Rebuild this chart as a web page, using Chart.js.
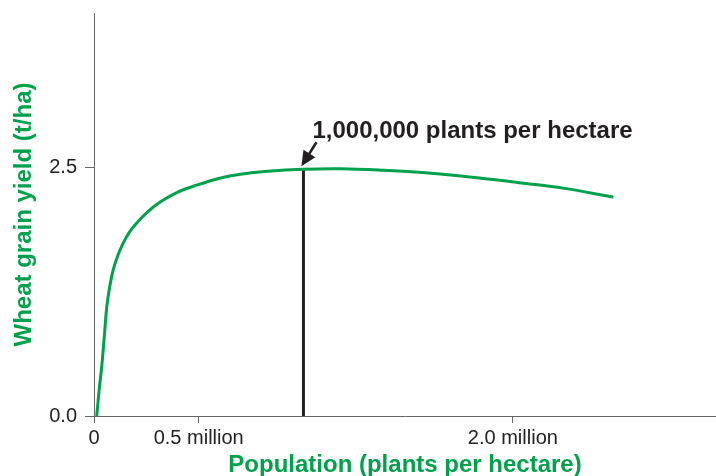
<!DOCTYPE html>
<html>
<head>
<meta charset="utf-8">
<script src="https://cdn.jsdelivr.net/npm/chart.js@4/dist/chart.umd.min.js"></script>
<style>
  html, body { margin: 0; padding: 0; background: #fff; }
  #wrap { width: 716px; height: 476px; }
</style>
</head>
<body>
<div id="wrap"><canvas id="chart"></canvas></div>
<script>
// population in millions of plants per hectare, yield in t/ha
const population = [0.013, 0.025, 0.037, 0.05, 0.061, 0.075, 0.092, 0.115, 0.14, 0.17, 0.204, 0.25, 0.316, 0.4, 0.49, 0.6, 0.7, 0.83, 1.0, 1.18, 1.37, 1.61, 1.85, 2.05, 2.24, 2.48];
const grainYield = [0, 0.27, 0.50, 0.82, 1.10, 1.30, 1.47, 1.62, 1.74, 1.85, 1.94, 2.04, 2.15, 2.25, 2.32, 2.39, 2.43, 2.46, 2.48, 2.485, 2.47, 2.44, 2.39, 2.34, 2.29, 2.20];

const markerX = 1.0;
const markerY = 2.48;
const markerLabel = '1,000,000 plants per hectare';

const xTickValues = [0, 0.5, 2.0];
const xTickLabels = ['0', '0.5 million', '2.0 million'];
const yTickValues = [0, 2.5];
const yTickLabels = ['0.0', '2.5'];

const GREEN = '#00a14b';
const INK = '#231f20';
const AXIS = '#666';

const annotate = {
  id: 'annotate',
  afterDatasetsDraw(chart) {
    const { ctx, scales: { x, y } } = chart;
    const px = x.getPixelForValue(markerX);
    const py = y.getPixelForValue(markerY);
    ctx.save();
    // arrow
    const tipX = px - 2, tipY = py - 3;
    const tailX = px + 13, tailY = py - 27;
    const ang = Math.atan2(tipY - tailY, tipX - tailX);
    const c = Math.cos(ang), s = Math.sin(ang);
    ctx.strokeStyle = INK;
    ctx.fillStyle = INK;
    ctx.lineWidth = 2.5;
    ctx.beginPath();
    ctx.moveTo(tailX, tailY);
    ctx.lineTo(tipX - 10 * c, tipY - 10 * s);
    ctx.stroke();
    ctx.beginPath();
    ctx.moveTo(tipX, tipY);
    ctx.lineTo(tipX - 15 * c + 7 * s, tipY - 15 * s - 7 * c);
    ctx.lineTo(tipX - 15 * c - 7 * s, tipY - 15 * s + 7 * c);
    ctx.closePath();
    ctx.fill();
    // label
    ctx.font = 'bold 24px "Liberation Sans", Arial, sans-serif';
    ctx.textAlign = 'left';
    ctx.textBaseline = 'alphabetic';
    ctx.fillText(markerLabel, px + 9, py - 31);
    ctx.restore();
  }
};

new Chart(document.getElementById('chart'), {
  type: 'line',
  data: {
    datasets: [
      {
        data: population.map((p, i) => ({ x: p, y: grainYield[i] })),
        borderColor: GREEN,
        borderWidth: 3,
        pointRadius: 0,
        tension: 0.35,
        borderCapStyle: 'butt'
      },
      {
        data: [{ x: markerX, y: 0 }, { x: markerX, y: markerY }],
        borderColor: INK,
        borderWidth: 3,
        pointRadius: 0
      }
    ]
  },
  options: {
    responsive: true,
    maintainAspectRatio: false,
    animation: false,
    layout: { padding: { top: 13, right: 0, left: 0, bottom: 0 } },
    plugins: { legend: { display: false }, tooltip: { enabled: false } },
    scales: {
      x: {
        type: 'linear',
        min: 0,
        max: 2.97,
        afterBuildTicks: s => { s.ticks = xTickValues.map(v => ({ value: v })); },
        afterFit: s => { s.height = 60; s.paddingLeft = 0; s.paddingRight = 0; },
        ticks: {
          padding: 3,
          color: '#222',
          font: { family: '"Liberation Sans", Arial, sans-serif', size: 20 },
          maxRotation: 0,
          autoSkip: false,
          callback: v => xTickLabels[xTickValues.indexOf(v)]
        },
        grid: { drawOnChartArea: false, tickLength: 7, color: AXIS, lineWidth: 1 },
        border: { color: AXIS, width: 1 },
        title: {
          display: true,
          text: 'Population (plants per hectare)',
          color: GREEN,
          padding: { top: 0, bottom: -4 },
          font: { family: '"Liberation Sans", Arial, sans-serif', size: 24, weight: 'bold' }
        }
      },
      y: {
        min: 0,
        max: 4.05,
        afterBuildTicks: s => { s.ticks = yTickValues.map(v => ({ value: v })); },
        afterFit: s => { s.width = 94; s.paddingTop = 0; s.paddingBottom = 0; },
        ticks: {
          padding: 8,
          color: '#222',
          font: { family: '"Liberation Sans", Arial, sans-serif', size: 20 },
          callback: v => yTickLabels[yTickValues.indexOf(v)]
        },
        grid: { drawOnChartArea: false, tickLength: 9, color: AXIS, lineWidth: 1 },
        border: { color: AXIS, width: 1 },
        title: {
          display: true,
          text: 'Wheat grain yield (t/ha)',
          color: GREEN,
          padding: { top: 10, bottom: 0 },
          font: { family: '"Liberation Sans", Arial, sans-serif', size: 24, weight: 'bold' }
        }
      }
    }
  },
  plugins: [annotate]
});
</script>
</body>
</html>
